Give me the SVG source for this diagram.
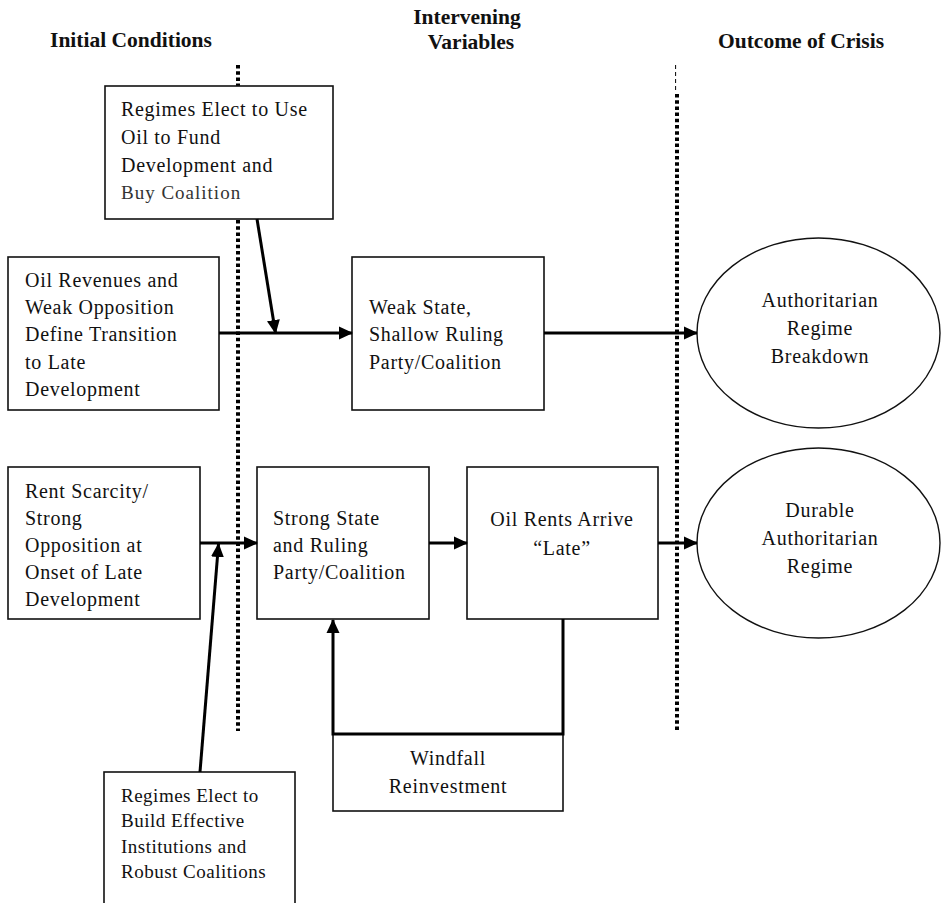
<svg xmlns="http://www.w3.org/2000/svg" width="941" height="903" viewBox="0 0 941 903">
<style>
.hdr{font-family:"Liberation Serif","Times New Roman",serif;font-weight:bold;font-size:21.5px;fill:#111}
.t{font-family:"Liberation Serif","Times New Roman",serif;font-size:20px;letter-spacing:0.7px;fill:#111}
.ts{font-family:"Liberation Serif","Times New Roman",serif;font-size:19px;letter-spacing:0.5px;fill:#111}
.c{text-anchor:middle}
.box{fill:#fff;stroke:#111;stroke-width:1.6}
.ell{fill:#fff;stroke:#111;stroke-width:1.4}
.dot{stroke:#000;stroke-width:4;stroke-dasharray:3.5 2.7;fill:none}
.conn{stroke:#000;stroke-width:3;fill:none}
</style>
<defs>
<marker id="ah" markerUnits="userSpaceOnUse" markerWidth="14" markerHeight="14" refX="13" refY="7" orient="auto" viewBox="0 0 14 14">
<path d="M0,0.5 L14,7 L0,13.5 z" fill="#000"/>
</marker>
</defs>
<rect width="941" height="903" fill="#fff"/>

<g id="headers">
<text class="hdr c" x="131" y="47">Initial Conditions</text>
<text class="hdr c" x="467" y="24">Intervening</text>
<text class="hdr c" x="471" y="49">Variables</text>
<text class="hdr c" x="801" y="48">Outcome of Crisis</text>
</g>

<g id="dividers">
<line class="dot" x1="238" y1="65" x2="238" y2="731"/>
<line x1="675.6" y1="65" x2="675.6" y2="93" stroke="#000" stroke-width="1" stroke-dasharray="4 3"/>
<line class="dot" x1="677" y1="94" x2="677" y2="731"/>
</g>

<g id="n-buy">
<rect class="box" x="105" y="86" width="228" height="133"/>
<text class="t" x="121" y="116">Regimes Elect to Use</text>
<text class="t" x="121" y="144">Oil to Fund</text>
<text class="t" x="121" y="172">Development and</text>
<text class="t" x="121" y="199" style="fill:#333;font-size:19px;letter-spacing:1px">Buy Coalition</text>
</g>

<g id="n-oilrev">
<rect class="box" x="8" y="257" width="211" height="153"/>
<text class="t" x="25" y="287">Oil Revenues and</text>
<text class="t" x="25" y="314">Weak Opposition</text>
<text class="t" x="25" y="341">Define Transition</text>
<text class="t" x="25" y="369">to Late</text>
<text class="t" x="25" y="396">Development</text>
</g>

<g id="n-weak">
<rect class="box" x="352" y="257" width="192" height="153"/>
<text class="t" x="369" y="314">Weak State,</text>
<text class="t" x="369" y="341">Shallow Ruling</text>
<text class="t" x="369" y="369">Party/Coalition</text>
</g>

<g id="n-breakdown">
<ellipse class="ell" cx="818.5" cy="333" rx="121.5" ry="95"/>
<text class="t c" x="820" y="307">Authoritarian</text>
<text class="t c" x="820" y="335">Regime</text>
<text class="t c" x="820" y="363">Breakdown</text>
</g>

<g id="n-rent">
<rect class="box" x="8" y="467" width="192" height="152"/>
<text class="t" x="25" y="498">Rent Scarcity/</text>
<text class="t" x="25" y="525">Strong</text>
<text class="t" x="25" y="552">Opposition at</text>
<text class="t" x="25" y="579">Onset of Late</text>
<text class="t" x="25" y="606">Development</text>
</g>

<g id="n-strong">
<rect class="box" x="257" y="467" width="172" height="152"/>
<text class="t" x="273" y="525">Strong State</text>
<text class="t" x="273" y="552">and Ruling</text>
<text class="t" x="273" y="579">Party/Coalition</text>
</g>

<g id="n-oilrents">
<rect class="box" x="467" y="467" width="191" height="152"/>
<text class="t c" x="562" y="526">Oil Rents Arrive</text>
<text class="t c" x="562" y="555">“Late”</text>
</g>

<g id="n-durable">
<ellipse class="ell" cx="818.5" cy="543" rx="121.5" ry="95"/>
<text class="t c" x="820" y="517">Durable</text>
<text class="t c" x="820" y="545">Authoritarian</text>
<text class="t c" x="820" y="573">Regime</text>
</g>

<g id="n-windfall">
<rect class="box" x="333" y="734" width="230" height="77"/>
<text class="t c" x="448" y="765">Windfall</text>
<text class="t c" x="448" y="793">Reinvestment</text>
</g>

<g id="n-build">
<rect class="box" x="104" y="772" width="191" height="150"/>
<text class="ts" x="121" y="802">Regimes Elect to</text>
<text class="ts" x="121" y="827">Build Effective</text>
<text class="ts" x="121" y="853">Institutions and</text>
<text class="ts" x="121" y="878">Robust Coalitions</text>
</g>

<g id="connectors">
<line class="conn" x1="219" y1="333" x2="352" y2="333" marker-end="url(#ah)"/>
<line class="conn" x1="257" y1="219" x2="275.5" y2="333" marker-end="url(#ah)"/>
<line class="conn" x1="544" y1="333" x2="697" y2="333" marker-end="url(#ah)"/>
<line class="conn" x1="200" y1="543" x2="257" y2="543" marker-end="url(#ah)"/>
<line class="conn" x1="200" y1="772" x2="218.5" y2="544" marker-end="url(#ah)"/>
<line class="conn" x1="429" y1="543" x2="467" y2="543" marker-end="url(#ah)"/>
<line class="conn" x1="658" y1="543" x2="697" y2="543" marker-end="url(#ah)"/>
<polyline class="conn" points="563,619 563,734 333,734 333,620" marker-end="url(#ah)"/>
</g>
</svg>
